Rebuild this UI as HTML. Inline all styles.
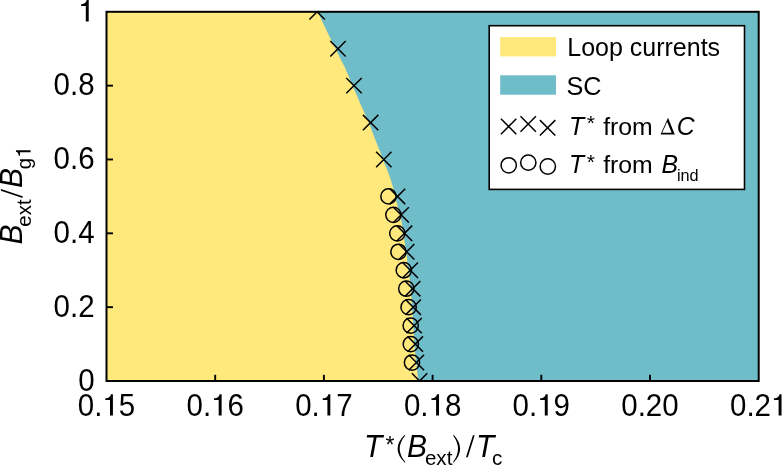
<!DOCTYPE html>
<html><head><meta charset="utf-8"><style>
html,body{margin:0;padding:0;background:#fff;}
body{width:782px;height:466px;overflow:hidden;}
svg{display:block;font-family:"Liberation Sans",sans-serif;font-kerning:none;will-change:transform;}
</style></head><body>
<svg width="782" height="466" viewBox="0 0 782 466">
<defs><clipPath id="pc"><rect x="106.5" y="11.8" width="652.20" height="369.20"/></clipPath></defs>
<rect x="106.5" y="11.8" width="652.20" height="369.20" fill="#70BDCA"/>
<path d="M106.5 11.8 L317.6 11.8 L321.6 20 L326.3 30 L331.2 40 L336.2 50 L341.0 60 L344.2 66 L348.2 75 L352.4 85.5 L356.6 95 L360.9 105 L365.4 115 L368.8 122.4 L371.6 130 L375.4 140 L379.4 150 L383.2 160 L387.2 170 L390.9 180 L393.8 190 L396.2 200 L398.4 210 L401.2 220 L402.9 230 L404.3 240 L406.8 255 L407.9 268 L410.0 280 L411.6 300 L412.6 315 L413.6 330 L414.5 345 L415.9 360 L417.0 370 L418.4 381 L106.5 381.0 Z" fill="#FFE87C"/>
<g clip-path="url(#pc)" fill="none" stroke="#000" stroke-width="1.5"><circle cx="388.50" cy="196.40" r="7.65"/><circle cx="393.40" cy="214.86" r="7.65"/><circle cx="397.30" cy="233.32" r="7.65"/><circle cx="398.50" cy="251.78" r="7.65"/><circle cx="403.80" cy="270.24" r="7.65"/><circle cx="406.30" cy="288.70" r="7.65"/><circle cx="408.60" cy="307.16" r="7.65"/><circle cx="410.70" cy="325.62" r="7.65"/><circle cx="410.80" cy="344.08" r="7.65"/><circle cx="412.00" cy="362.54" r="7.65"/><path d="M309.40 4.10L324.80 19.50M309.40 19.50L324.80 4.10"/><path d="M330.30 41.02L345.70 56.42M330.30 56.42L345.70 41.02"/><path d="M346.30 77.94L361.70 93.34M346.30 93.34L361.70 77.94"/><path d="M362.90 114.86L378.30 130.26M362.90 130.26L378.30 114.86"/><path d="M376.10 151.78L391.50 167.18M376.10 167.18L391.50 151.78"/><path d="M389.80 188.70L405.20 204.10M389.80 204.10L405.20 188.70"/><path d="M393.40 207.16L408.80 222.56M393.40 222.56L408.80 207.16"/><path d="M396.80 225.62L412.20 241.02M396.80 241.02L412.20 225.62"/><path d="M399.00 244.08L414.40 259.48M399.00 259.48L414.40 244.08"/><path d="M402.60 262.54L418.00 277.94M402.60 277.94L418.00 262.54"/><path d="M405.00 281.00L420.40 296.40M405.00 296.40L420.40 281.00"/><path d="M405.50 299.46L420.90 314.86M405.50 314.86L420.90 299.46"/><path d="M406.40 317.92L421.80 333.32M406.40 333.32L421.80 317.92"/><path d="M407.60 336.38L423.00 351.78M407.60 351.78L423.00 336.38"/><path d="M408.70 354.84L424.10 370.24M408.70 370.24L424.10 354.84"/><path d="M411.90 373.30L427.30 388.70M411.90 388.70L427.30 373.30"/></g>
<g stroke="#000" stroke-width="1.9"><line x1="215.20" y1="381.0" x2="215.20" y2="374.8"/><line x1="323.90" y1="381.0" x2="323.90" y2="374.8"/><line x1="432.60" y1="381.0" x2="432.60" y2="374.8"/><line x1="541.30" y1="381.0" x2="541.30" y2="374.8"/><line x1="650.00" y1="381.0" x2="650.00" y2="374.8"/><line x1="106.5" y1="307.16" x2="113.0" y2="307.16"/><line x1="106.5" y1="233.32" x2="113.0" y2="233.32"/><line x1="106.5" y1="159.48" x2="113.0" y2="159.48"/><line x1="106.5" y1="85.64" x2="113.0" y2="85.64"/></g>
<rect x="106.5" y="11.8" width="652.20" height="369.20" fill="none" stroke="#000" stroke-width="2"/>
<g fill="#000"><g transform="matrix(1 0 0 1.05 0 -20.243)"><text x="77.79" y="415.00" font-size="29.5">0.</text><path d="M258 0H357V690H288C278 630 230 562 100 556V500H258Z" transform="translate(102.39 415.00) scale(0.02950 -0.02950)"/><text x="118.80" y="415.00" font-size="29.5">5</text><text x="186.49" y="415.00" font-size="29.5">0.</text><path d="M258 0H357V690H288C278 630 230 562 100 556V500H258Z" transform="translate(211.09 415.00) scale(0.02950 -0.02950)"/><text x="227.50" y="415.00" font-size="29.5">6</text><text x="295.19" y="415.00" font-size="29.5">0.</text><path d="M258 0H357V690H288C278 630 230 562 100 556V500H258Z" transform="translate(319.79 415.00) scale(0.02950 -0.02950)"/><text x="336.20" y="415.00" font-size="29.5">7</text><text x="403.89" y="415.00" font-size="29.5">0.</text><path d="M258 0H357V690H288C278 630 230 562 100 556V500H258Z" transform="translate(428.49 415.00) scale(0.02950 -0.02950)"/><text x="444.90" y="415.00" font-size="29.5">8</text><text x="512.59" y="415.00" font-size="29.5">0.</text><path d="M258 0H357V690H288C278 630 230 562 100 556V500H258Z" transform="translate(537.19 415.00) scale(0.02950 -0.02950)"/><text x="553.60" y="415.00" font-size="29.5">9</text><text x="621.29" y="415.00" font-size="29.5">0.20</text><text x="729.99" y="415.00" font-size="29.5">0.2</text><path d="M258 0H357V690H288C278 630 230 562 100 556V500H258Z" transform="translate(771.00 415.00) scale(0.02950 -0.02950)"/></g><g transform="matrix(1 0 0 1.05 0 -18.998)"><text x="78.19" y="390.10" font-size="29.5">0</text></g><g transform="matrix(1 0 0 1.05 0 -15.306)"><text x="53.59" y="316.26" font-size="29.5">0.2</text></g><g transform="matrix(1 0 0 1.05 0 -11.614)"><text x="53.59" y="242.42" font-size="29.5">0.4</text></g><g transform="matrix(1 0 0 1.05 0 -7.922)"><text x="53.59" y="168.58" font-size="29.5">0.6</text></g><g transform="matrix(1 0 0 1.05 0 -4.230)"><text x="53.59" y="94.74" font-size="29.5">0.8</text></g><g transform="matrix(1 0 0 1.05 0 -0.538)"><path d="M258 0H357V690H288C278 630 230 562 100 556V500H258Z" transform="translate(78.19 20.90) scale(0.02950 -0.02950)"/></g></g>
<g fill="#000"><g transform="matrix(1 0 0 1.05 0 -22.850)"><text x="364.00" y="457.00" font-size="30" font-style="italic">T</text></g><text x="385.53" y="452.82" font-size="23">*</text><path d="M404.4 435.1Q390.7 448.85 404.6 462.6L405.4 462.2Q394.1 448.85 405.2 435.5Z"/><g transform="matrix(1 0 0 1.05 0 -22.850)"><text x="406.88" y="457.00" font-size="30" font-style="italic">B</text></g><text x="424.92" y="465.00" font-size="20.6">ext</text><path d="M453.9 435.1Q466.4 448.85 453.7 462.6L452.9 462.2Q463.0 448.85 453.1 435.5Z"/><path d="M466.0 457.3H467.8L474.7 435.3H472.9Z"/><g transform="matrix(1 0 0 1.05 0 -22.850)"><text x="476.00" y="457.00" font-size="30" font-style="italic">T</text></g><text x="491.92" y="465.00" font-size="20.6">c</text></g>
<g transform="translate(22.3 250.0) rotate(-90)" fill="#000"><g transform="matrix(1 0 0 1.05 0 -0.000)"><text x="5.58" y="0.00" font-size="30" font-style="italic">B</text></g><text x="23.33" y="8.60" font-size="20.5">ext</text><path d="M52.10 0.3H53.85L61.10 -21.4H59.35Z"/><g transform="matrix(1 0 0 1.05 0 -0.000)"><text x="62.08" y="0.00" font-size="30" font-style="italic">B</text></g><text x="80.84" y="8.30" font-size="20.5">g</text><path d="M258 0H357V690H288C278 630 230 562 100 556V500H258Z" transform="translate(92.24 8.30) scale(0.02120 -0.02120)"/></g>
<rect x="489.2" y="25.7" width="255.3" height="163.7" fill="#fff" stroke="#000" stroke-width="1.6"/>
<rect x="500.2" y="37" width="55.8" height="19.4" fill="#FFE87C"/>
<rect x="500.2" y="75.3" width="55.8" height="19.4" fill="#70BDCA"/>
<g fill="none" stroke="#000" stroke-width="1.5"><path d="M500.90 118.80L516.30 134.20M500.90 134.20L516.30 118.80"/><path d="M520.50 116.30L535.90 131.70M520.50 131.70L535.90 116.30"/><path d="M539.90 120.10L555.30 135.50M539.90 135.50L555.30 120.10"/><circle cx="508.70" cy="165.30" r="7.65"/><circle cx="528.30" cy="162.60" r="7.65"/><circle cx="547.80" cy="166.50" r="7.65"/></g>
<g fill="#000"><g transform="matrix(1 0 0 1.05 0 -2.820)"><text x="567.25" y="56.40" font-size="25.0">L</text></g><text x="581.15" y="56.40" font-size="25.0">oop currents</text><g transform="matrix(1 0 0 1.05 0 -4.760)"><text x="566.56" y="95.20" font-size="25.2">SC</text></g><g transform="matrix(1 0 0 1.05 0 -6.740)"><text x="568.97" y="134.80" font-size="24.8" font-style="italic">T</text></g><text x="586.86" y="129.95" font-size="21">*</text><text x="603.15" y="134.80" font-size="24.8">from</text><path fill-rule="evenodd" d="M660.60 134.40L668.00 117.80L674.80 134.40ZM662.21 132.80L671.64 132.80L667.13 121.77Z"/><g transform="matrix(1 0 0 1.05 0 -6.740)"><text x="676.83" y="134.80" font-size="24.8" font-style="italic">C</text></g><g transform="matrix(1 0 0 1.05 0 -8.630)"><text x="568.97" y="172.60" font-size="24.8" font-style="italic">T</text></g><text x="586.86" y="168.55" font-size="21">*</text><text x="603.15" y="172.60" font-size="24.8">from</text><g transform="matrix(1 0 0 1.05 0 -8.630)"><text x="661.54" y="172.60" font-size="24.8" font-style="italic">B</text></g><text x="676.91" y="180.80" font-size="16.3">ind</text></g>
</svg>
</body></html>
